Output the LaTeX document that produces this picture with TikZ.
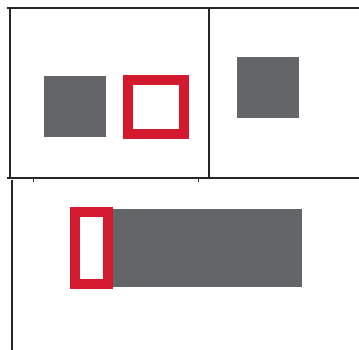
\documentclass[tikz,border=0pt]{standalone}
\definecolor{boxgray}{HTML}{646569}
\definecolor{boxred}{HTML}{D31A2F}
\begin{document}
\begin{tikzpicture}[x=1pt,y=-1pt,
  frame/.style={line width=2pt,black!85},
  tick/.style={line width=0.7pt,black!80},
  graybox/.style={fill=boxgray,draw=none},
  redbox/.style={draw=boxred,line width=10pt,fill=white}]
\useasboundingbox (0,0) rectangle (359,350);
% frame lines
\draw[frame] (7,8.3) -- (359,8.3);
\draw[frame] (10.3,8.3) -- (10.3,178);
\draw[frame] (209,8.3) -- (209,178);
\draw[frame] (7,178) -- (359,178);
\draw[frame] (12.3,180) -- (12.3,350);
\draw[tick] (33,178) -- (33,182);
\draw[tick] (198,178) -- (198,182);
% boxes
\fill[graybox] (44.3,76) rectangle (106,137);
\draw[redbox] (128.3,79.6) rectangle (184,134.3);
\fill[graybox] (237,56.7) rectangle (298.7,118);
\fill[graybox] (108,209.3) rectangle (302.3,286.7);
\draw[redbox] (74.5,212) rectangle (108.3,284);
\end{tikzpicture}
\end{document}
